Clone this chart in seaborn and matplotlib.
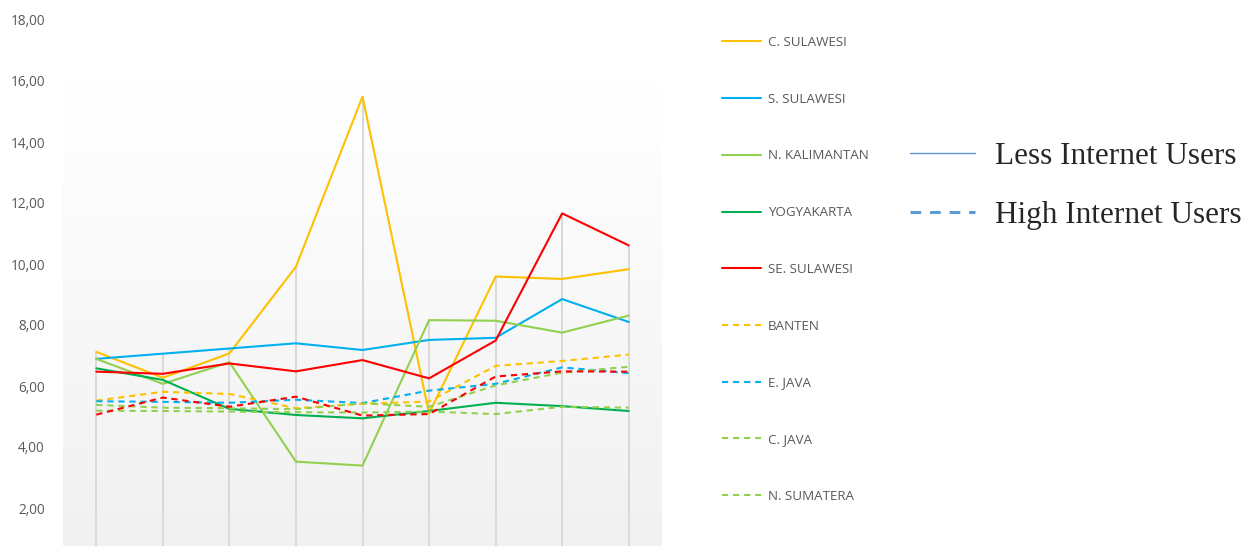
import numpy as np
import seaborn as sns
import matplotlib.pyplot as plt
from matplotlib.lines import Line2D
from matplotlib.colors import LinearSegmentedColormap

# nine periods along the x axis (labels are cut off in the source picture)
periods = [0, 1, 2, 3, 4, 5, 6, 7, 8]

# less internet users (solid)
c_sulawesi = [7.12, 6.27, 7.07, 9.91, 15.49, 5.10, 9.59, 9.51, 9.83]
s_sulawesi = [6.89, 7.06, 7.23, 7.40, 7.18, 7.51, 7.58, 8.85, 8.10]
n_kalimantan = [6.89, 6.07, 6.78, 3.52, 3.39, 8.16, 8.14, 7.75, 8.31]
yogyakarta = [6.58, 6.20, 5.25, 5.05, 4.94, 5.18, 5.45, 5.34, 5.18]
se_sulawesi = [6.47, 6.40, 6.74, 6.48, 6.85, 6.25, 7.49, 11.66, 10.61]

# high internet users (dashed)
banten = [5.52, 5.81, 5.74, 5.27, 5.42, 5.49, 6.66, 6.82, 7.03]
e_java = [5.50, 5.48, 5.45, 5.55, 5.44, 5.85, 6.07, 6.61, 6.42]
c_java = [5.38, 5.29, 5.27, 5.24, 5.43, 5.32, 6.02, 6.44, 6.63]
n_sumatera = [5.19, 5.18, 5.16, 5.14, 5.13, 5.16, 5.08, 5.32, 5.29]
# red dashed series whose legend entry is cropped off the bottom
red_dashed = [5.06, 5.62, 5.32, 5.65, 5.03, 5.08, 6.31, 6.48, 6.47]

series = [
    ("C. SULAWESI", c_sulawesi, "#FFC000", "-"),
    ("S. SULAWESI", s_sulawesi, "#00B0F0", "-"),
    ("N. KALIMANTAN", n_kalimantan, "#92D050", "-"),
    ("YOGYAKARTA", yogyakarta, "#00B050", "-"),
    ("SE. SULAWESI", se_sulawesi, "#FF0000", "-"),
    ("BANTEN", banten, "#FFC000", "--"),
    ("E. JAVA", e_java, "#00B0F0", "--"),
    ("C. JAVA", c_java, "#92D050", "--"),
    ("N. SUMATERA", n_sumatera, "#92D050", "--"),
    ("_nolegend_", red_dashed, "#FF0000", "--"),
]

sns.set_style("white")
plt.rcParams["font.family"] = ["Open Sans", "DejaVu Sans"]

W, H = 1251, 546
fig = plt.figure(figsize=(W / 100, H / 100), dpi=100)
ax = fig.add_axes([63 / W, 0, 599 / W, 1])

y_top = 18 + 20 / 30.5
y_bot = 18 - 526 / 30.5

# plot area gradient
grad = LinearSegmentedColormap.from_list("g", ["#FFFFFF", "#F1F1F1"])
ax.imshow(np.linspace(0, 1, 256).reshape(-1, 1), cmap=grad, aspect="auto",
          extent=[-0.5, 8.5, y_bot, 15.93], origin="upper", zorder=0)

# drop lines from the highest value at each period
highest = np.max([s[1] for s in series], axis=0)
ax.vlines(periods, y_bot, highest, color="#D9D9D9", lw=1.4, zorder=1)

dash = (0, (3, 2.3))
handles = []
for name, vals, col, ls in series:
    sns.lineplot(x=periods, y=vals, ax=ax, color=col, lw=1.5, zorder=3,
                 linestyle=dash if ls == "--" else "-")
    if not name.startswith("_"):
        handles.append(Line2D([], [], color=col, lw=1.5,
                              linestyle=dash if ls == "--" else "-", label=name))

ax.set_xlim(-0.5, 8.5)
ax.set_ylim(y_bot, y_top)
ax.set_xticks([])
ax.set_yticks(range(2, 19, 2))
ax.set_yticklabels([f"{v:.2f}".replace(".", ",") for v in range(2, 19, 2)],
                   color="#595959", fontsize=9.8)
ax.tick_params(axis="y", length=0, pad=13)
sns.despine(ax=ax, left=True, bottom=True)
ax.set_xlabel("")
ax.set_ylabel("")

leg1 = fig.legend(handles=handles, loc="upper left",
                  bbox_to_anchor=(722 / W, 1 - 36 / H), frameon=False,
                  fontsize=9.6, handlelength=2.95, handletextpad=0.5,
                  labelspacing=3.28, borderpad=0, borderaxespad=0)
for t in leg1.get_texts():
    t.set_color("#595959")

kind_handles = [
    Line2D([], [], color="#5B9BD5", lw=1.0, label="Less Internet Users"),
    Line2D([], [], color="#5B9BD5", lw=2.2, linestyle=(0, (3.5, 2.9)),
           label="High Internet Users"),
]
leg2 = fig.legend(handles=kind_handles, loc="upper left",
                  bbox_to_anchor=(910 / W, 1 - 142 / H), frameon=False,
                  prop={"family": "Liberation Serif", "size": 22.5},
                  handlelength=2.08, handletextpad=0.64, labelspacing=0.97,
                  borderpad=0, borderaxespad=0)

fig.savefig("out.png", dpi=100)
